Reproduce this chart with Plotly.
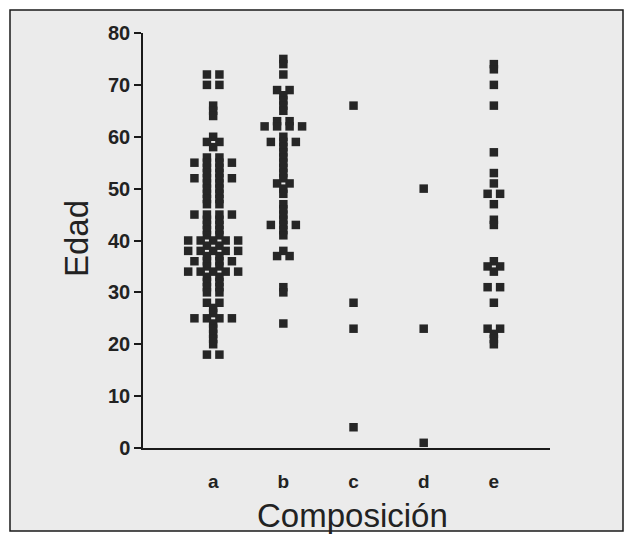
import plotly.graph_objects as go
from collections import Counter

categorias = ["a", "b", "c", "d", "e"]

edad_a = [72, 72, 70, 70, 66, 65, 64, 60, 59, 59, 58, 56, 56, 55, 55, 55, 55, 54, 54,
          53, 53, 52, 52, 52, 52, 51, 51, 50, 50, 49, 49, 48, 48, 47, 47, 45, 45, 45, 45,
          44, 44, 43, 43, 42, 42, 41, 41, 40, 40, 40, 40, 40, 39, 39, 38, 38, 38, 38, 38,
          37, 37, 36, 36, 36, 36, 35, 35, 34, 34, 34, 34, 34, 33, 33, 32, 32, 31, 31,
          30, 30, 28, 28, 27, 26, 25, 25, 25, 25, 24, 23, 22, 21, 20, 18, 18]
edad_b = [75, 74, 72, 69, 69, 68, 67, 66, 65, 63, 63, 62, 62, 62, 62, 60, 59, 59, 59,
          58, 57, 56, 55, 54, 53, 52, 51, 51, 50, 49, 47, 46, 45, 44, 43, 43, 43, 42,
          41, 38, 37, 37, 31, 30, 24]
edad_c = [66, 28, 23, 4]
edad_d = [50, 23, 1]
edad_e = [74, 73, 70, 66, 57, 53, 51, 49, 49, 47, 44, 43, 36, 35, 35, 34, 31, 31, 28,
          23, 23, 22, 21, 20]

series = [edad_a, edad_b, edad_c, edad_d, edad_e]

STEP = 0.178  # horizontal spacing between equal values (axis units)

xs, ys = [], []
for k, vals in enumerate(series, start=1):
    cnt = Counter(vals)
    for v, n in cnt.items():
        for i in range(n):
            xs.append(k + (i - (n - 1) / 2) * STEP)
            ys.append(v)

fig = go.Figure()
fig.add_trace(go.Scatter(
    x=xs, y=ys, mode="markers",
    marker=dict(symbol="square", size=8.5, color="#262626", line=dict(width=0)),
    cliponaxis=False, hoverinfo="y", showlegend=False,
))

L, T, B, R = 143, 33, 90, 76
W, H = 626, 538
pw, ph = W - L - R, H - T - B

def px(x):
    return (x - L) / pw

def py(y):
    return (H - B - y) / ph

fig.add_shape(type="rect", xref="paper", yref="paper",
              x0=px(10), x1=px(623), y0=py(531), y1=py(10),
              line=dict(color="#1a1a1a", width=1.5), fillcolor="#ebebeb", layer="below")

fig.update_layout(
    width=W, height=H,
    margin=dict(l=L, r=R, t=T, b=B, pad=0),
    paper_bgcolor="white", plot_bgcolor="rgba(0,0,0,0)",
    xaxis=dict(range=[0, 5.8], tickvals=[1, 2, 3, 4, 5], ticktext=categorias,
               showgrid=False, zeroline=False, showline=True, linecolor="#1a1a1a",
               linewidth=1.5, ticks="outside", ticklen=15, tickcolor="rgba(0,0,0,0)",
               tickfont=dict(family="Liberation Sans", size=19, color="#222", weight="bold")),
    yaxis=dict(range=[0, 80], tickvals=[0, 10, 20, 30, 40, 50, 60, 70, 80],
               showgrid=False, zeroline=False, showline=True, linecolor="#1a1a1a",
               linewidth=1.5, ticks="outside", ticklen=7, tickwidth=1.5, tickcolor="#1a1a1a",
               tickfont=dict(family="Liberation Sans", size=20, color="#222", weight="bold")),
    annotations=[
        dict(text="Edad", xref="paper", yref="paper", x=px(76), y=py(239),
             showarrow=False, textangle=-90, xanchor="center", yanchor="middle",
             font=dict(family="Liberation Sans", size=33, color="#222")),
        dict(text="Composición", xref="paper", yref="paper", x=px(352), y=py(515),
             showarrow=False, xanchor="center", yanchor="middle",
             font=dict(family="Liberation Sans", size=33, color="#222")),
    ],
)

fig.write_html("out.html")
